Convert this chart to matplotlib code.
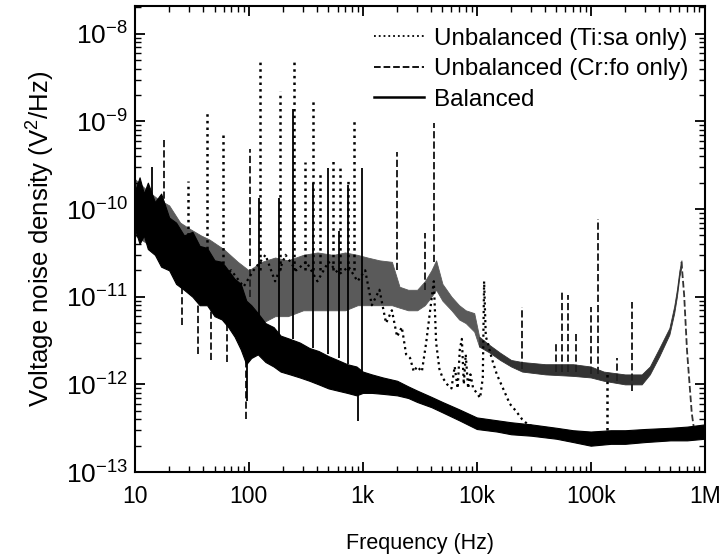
import matplotlib.pyplot as plt
from matplotlib.lines import Line2D

plt.rcParams['font.family'] = ['Liberation Sans', 'DejaVu Sans']
plt.rcParams['mathtext.fontset'] = 'custom'
plt.rcParams['mathtext.rm'] = 'Liberation Sans'
plt.rcParams['mathtext.it'] = 'Liberation Sans:italic'

# Balanced: noise band (upper / lower envelope)
bal_freq = [10, 11, 12, 13, 15, 17, 20, 23, 27, 32, 37, 43, 50, 58, 66, 75, 85, 95, 105, 120, 140,
            165, 190, 230, 280, 340, 410, 500, 600, 730, 880, 1000, 1200, 1500, 2000, 2500, 3000,
            4000, 5000, 7000, 10000, 15000, 20000, 30000, 50000, 70000, 100000, 150000, 200000,
            300000, 500000, 700000, 1000000]
bal_hi = [1.6e-10, 2.3e-10, 1.5e-10, 2.0e-10, 1.2e-10, 1.5e-10, 8e-11, 7e-11, 5e-11, 5.5e-11, 3.8e-11,
          3.6e-11, 2.6e-11, 2.5e-11, 2e-11, 1.6e-11, 1.4e-11, 9e-12, 8e-12, 6.5e-12, 5e-12,
          4.5e-12, 3.6e-12, 3.3e-12, 3e-12, 2.6e-12, 2.4e-12, 2.1e-12, 1.9e-12, 1.7e-12, 1.6e-12,
          1.4e-12, 1.3e-12, 1.2e-12, 1.1e-12, 9.5e-13, 8.5e-13, 7.2e-13, 6.3e-13, 5.2e-13, 4.2e-13,
          3.9e-13, 3.7e-13, 3.5e-13, 3.2e-13, 3.0e-13, 2.9e-13, 3.0e-13, 3.0e-13, 3.1e-13,
          3.2e-13, 3.3e-13, 3.5e-13]
bal_lo = [6e-11, 4e-11, 5e-11, 3.5e-11, 3e-11, 2.2e-11, 2e-11, 1.4e-11, 1.2e-11, 1e-11, 8e-12,
          8e-12, 6e-12, 5.5e-12, 4.5e-12, 3.5e-12, 2.5e-12, 1.7e-12, 2e-12, 2.2e-12, 1.8e-12,
          1.6e-12, 1.4e-12, 1.3e-12, 1.2e-12, 1.1e-12, 1.0e-12, 9e-13, 8.5e-13, 8e-13, 7.5e-13,
          8e-13, 8e-13, 7.8e-13, 7.5e-13, 7e-13, 6.3e-13, 5.5e-13, 4.8e-13, 3.9e-13, 3.1e-13,
          2.9e-13, 2.7e-13, 2.6e-13, 2.4e-13, 2.2e-13, 2.0e-13, 2.1e-13, 2.1e-13, 2.2e-13,
          2.3e-13, 2.3e-13, 2.4e-13]
bal_spike_freq = [14, 122, 184, 243, 364, 493, 620, 740, 985]
bal_spike_top = [3e-10, 1.35e-10, 1.35e-10, 1.4e-9, 2e-10, 2.9e-10, 5.6e-11, 1.9e-10, 2.9e-10]
bal_spike_bottom = [1e-10, 6e-12, 3.5e-12, 3.3e-12, 2.6e-12, 2.2e-12, 2e-12, 1.7e-12, 1.4e-12]
bal_dip_freq = [97, 900]
bal_dip_top = [3e-12, 1e-12]
bal_dip_bottom = [6.4e-13, 3.8e-13]

# Unbalanced (Cr:fo only): grey band, spikes and the resonance near 630 kHz
cr_freq = [10, 13, 16, 20, 25, 30, 38, 45, 60, 80, 100, 130, 170, 220, 300, 400, 550, 700, 900,
           1100, 1400, 1800, 2100, 2500, 3000, 3500, 4000, 4400, 5000, 6000, 7000, 8000, 9500,
           10500, 13000, 16000, 20000, 25000, 40000, 70000, 100000, 130000, 200000, 280000,
           330000, 400000, 490000, 540000, 570000, 600000, 625000]
cr_hi = [2.2e-10, 1.6e-10, 1.3e-10, 1.1e-10, 7e-11, 6e-11, 5e-11, 4.5e-11, 3.5e-11, 2.5e-11,
         2e-11, 2.5e-11, 2.8e-11, 2.6e-11, 3e-11, 3.2e-11, 3e-11, 3.2e-11, 3e-11, 2.8e-11,
         2.6e-11, 2.5e-11, 1.3e-11, 1.2e-11, 1.2e-11, 1.5e-11, 2e-11, 2.6e-11, 1.4e-11, 1e-11,
         8e-12, 7e-12, 6.5e-12, 3.5e-12, 2.8e-12, 2.3e-12, 1.9e-12, 1.8e-12, 1.7e-12, 1.7e-12,
         1.6e-12, 1.4e-12, 1.3e-12, 1.3e-12, 1.6e-12, 2.6e-12, 4.4e-12, 7.8e-12, 1.2e-11,
         2e-11, 2.6e-11]
cr_lo = [5e-11, 4e-11, 3e-11, 2.5e-11, 1.8e-11, 1.5e-11, 1.1e-11, 1e-11, 8e-12, 6e-12, 4e-12,
         5e-12, 6e-12, 6e-12, 7e-12, 7e-12, 7e-12, 7e-12, 8e-12, 8e-12, 8e-12, 8e-12, 7.5e-12,
         7e-12, 7e-12, 8e-12, 1e-11, 1.2e-11, 9e-12, 7e-12, 5.5e-12, 5e-12, 4e-12, 2.7e-12,
         2.3e-12, 1.9e-12, 1.6e-12, 1.4e-12, 1.3e-12, 1.25e-12, 1.2e-12, 1.1e-12, 1.0e-12,
         1.0e-12, 1.3e-12, 2.1e-12, 3.7e-12, 6.5e-12, 1e-11, 1.7e-11, 2.2e-11]
cr_tail_freq = [625000, 660000, 700000, 770000, 800000]
cr_tail_val = [2.5e-11, 1.05e-11, 2.4e-12, 4.7e-13, 3.3e-13]
cr_spike_freq = [18, 102, 1990, 3500, 4250, 25000, 50000, 56000, 63000, 75000, 100000, 115000,
                 170000, 230000]
cr_spike_top = [6.2e-10, 4.8e-10, 4.5e-10, 5.3e-11, 9.5e-10, 7.7e-12, 3e-12, 1.2e-11, 1.05e-11,
                3.8e-12, 7.7e-12, 7.7e-11, 2e-12, 8.8e-12]
cr_spike_bottom = [1e-10, 1e-11, 2e-11, 1.2e-11, 2.5e-11, 1.5e-12, 1.4e-12, 1.4e-12, 1.4e-12,
                   1.4e-12, 1.3e-12, 1.3e-12, 1.1e-12, 8.3e-13]
cr_dip_freq = [26, 36, 47, 64, 95]
cr_dip_top = [1.5e-11, 1e-11, 8e-12, 7e-12, 4e-12]
cr_dip_bottom = [4.8e-12, 2.2e-12, 1.9e-12, 1.8e-12, 4e-13]

# Unbalanced (Ti:sa only): dotted trace and spikes
ti_freq = [10, 13, 17, 22, 28, 35, 45, 55, 70, 90, 110, 140, 170, 210, 260, 320, 400, 500, 620,
           750, 900, 1050, 1200, 1400, 1600, 1800, 2000, 2200, 2400, 2600, 2800, 3000, 3300, 3600,
           3900, 4200, 4400, 4700, 5000, 5500, 6000, 6400, 6800, 7100, 7400, 7700, 8000, 8400,
           8800, 9300, 10000, 10700, 11300, 11600, 12000, 12500, 13500, 15000, 17000, 19500,
           22000, 25000, 28000, 33000, 40000, 60000, 100000, 200000, 400000, 700000, 1000000]
ti_val = [1.3e-10, 9e-11, 6e-11, 4.5e-11, 3e-11, 2.5e-11, 2e-11, 1.6e-11, 2e-11, 1.3e-11, 2e-11,
          3e-11, 1.5e-11, 3e-11, 2e-11, 2.5e-11, 1.5e-11, 2.5e-11, 1.8e-11, 2.2e-11, 1.5e-11,
          2e-11, 8e-12, 1.2e-11, 5e-12, 7e-12, 3.5e-12, 4.5e-12, 2.2e-12, 2e-12, 1.4e-12, 1.6e-12,
          1.4e-12, 3e-12, 7e-12, 1.5e-11, 3e-12, 1.5e-12, 1.2e-12, 1e-12, 9e-13, 1.6e-12, 9e-13,
          2.5e-12, 3.3e-12, 1e-12, 2.2e-12, 9e-13, 1.3e-12, 9e-13, 8e-13, 7e-13, 1.2e-12,
          1.5e-11, 3.5e-12, 3e-12, 2e-12, 1.3e-12, 9e-13, 6e-13, 5e-13, 4e-13, 3.5e-13, 3.2e-13,
          3e-13, 2.8e-13, 2.6e-13, 2.7e-13, 2.9e-13, 3e-13, 3.2e-13]
ti_spike_freq = [29, 43, 59, 125, 187, 248, 310, 364, 420, 545, 630, 740, 834, 138000]
ti_spike_top = [2.1e-10, 1.3e-9, 7.7e-10, 5.1e-9, 2.2e-9, 4.7e-9, 3.4e-10, 1.8e-9, 2.7e-10,
                3.7e-10, 3.2e-10, 2.1e-10, 1e-9, 1.3e-12]
ti_spike_bottom = [3e-11, 2.5e-11, 2e-11, 2e-11, 2e-11, 2e-11, 2e-11, 2e-11, 2e-11, 2e-11, 2e-11,
                   2e-11, 2e-11, 3e-13]

x_ticks = [10, 100, 1000, 10000, 100000, 1000000]
x_tick_labels = ['10', '100', '1k', '10k', '100k', '1M']

fig, ax = plt.subplots(figsize=(7.25, 5.6), dpi=100)
fig.subplots_adjust(left=0.186, right=0.972, bottom=0.157, top=0.989)

# Cr:fo - lighter grey below ~10 kHz, darker trace above
split = cr_freq.index(10500) + 1
ax.fill_between(cr_freq[:split], cr_lo[:split], cr_hi[:split], color='#5a5a5a', lw=0.6, zorder=1)
ax.fill_between(cr_freq[split - 1:], cr_lo[split - 1:], cr_hi[split - 1:], color='#333333', lw=0.6, zorder=1)
ax.plot(cr_tail_freq, cr_tail_val, color='#333333', ls='--', lw=1.3, zorder=1)
ax.vlines(cr_spike_freq, cr_spike_bottom, cr_spike_top, colors='#222222', linestyles='--', lw=1.4, zorder=2)
ax.vlines(cr_dip_freq, cr_dip_bottom, cr_dip_top, colors='#222222', linestyles='--', lw=1.4, zorder=2)

# Ti:sa
ax.plot(ti_freq, ti_val, color='black', ls=':', lw=1.6, zorder=3)
ax.vlines(ti_spike_freq, ti_spike_bottom, ti_spike_top, colors='black', linestyles=':', lw=1.8, zorder=3)

# Balanced
ax.fill_between(bal_freq, bal_lo, bal_hi, color='black', lw=0.8, zorder=4)
ax.vlines(bal_spike_freq, bal_spike_bottom, bal_spike_top, colors='black', lw=1.3, zorder=4)
ax.vlines(bal_dip_freq, bal_dip_bottom, bal_dip_top, colors='black', lw=1.3, zorder=4)

ax.set_xscale('log')
ax.set_yscale('log')
ax.set_xlim(10, 1e6)
ax.set_ylim(1e-13, 2.06e-8)
ax.set_xticks(x_ticks)
ax.set_xticklabels(x_tick_labels)
ax.set_yticks([1e-13, 1e-12, 1e-11, 1e-10, 1e-9, 1e-8])

ax.tick_params(which='both', direction='in', top=True, right=True)
ax.tick_params(axis='x', which='major', labelsize=16.5, pad=9)
ax.tick_params(axis='y', which='major', labelsize=19, pad=5)
ax.tick_params(which='major', length=7, width=1.3)
ax.tick_params(which='minor', length=4, width=1.0)
for s in ax.spines.values():
    s.set_linewidth(1.5)

ax.set_xlabel('Frequency (Hz)', fontsize=15.5, labelpad=18)
ax.set_ylabel('Voltage noise density (V$^2$/Hz)', fontsize=18.5, labelpad=6)

handles = [Line2D([], [], color='black', ls=':', lw=1.3),
           Line2D([], [], color='black', ls='--', lw=1.3),
           Line2D([], [], color='black', ls='-', lw=1.8)]
labels = ['Unbalanced (Ti:sa only)', 'Unbalanced (Cr:fo only)', 'Balanced']
ax.legend(handles, labels, loc='upper right', bbox_to_anchor=(1.01, 1.0), frameon=False,
          fontsize=17.4, handlelength=2.07, handletextpad=0.41, labelspacing=0.35,
          borderaxespad=0.5)

fig.savefig('out.png', dpi=100)
